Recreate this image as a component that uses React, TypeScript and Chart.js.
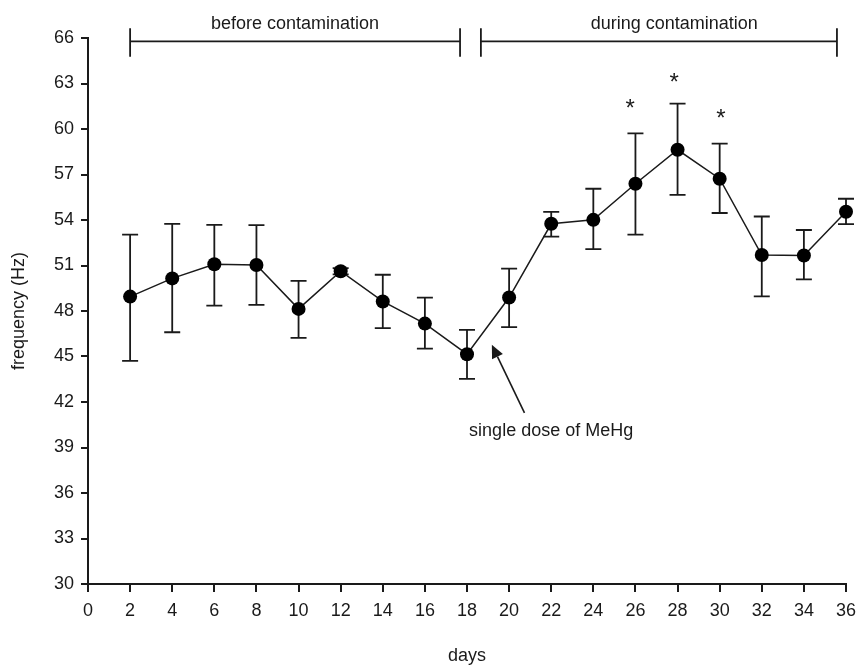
import React, { useEffect, useRef } from "react";
import { Chart, registerables } from "chart.js";

Chart.register(...registerables);

// ---- data ----
const days = [2, 4, 6, 8, 10, 12, 14, 16, 18, 20, 22, 24, 26, 28, 30, 32, 34, 36];
const frequency = [48.95, 50.15, 51.08, 51.03, 48.14, 50.62, 48.63, 47.17, 45.15, 48.89, 53.75, 54.01, 56.39, 58.63, 56.72, 51.69, 51.66, 54.54];
const errorUpper = [53.03, 53.75, 53.68, 53.66, 49.99, 50.83, 50.39, 48.88, 46.76, 50.8, 54.54, 56.06, 59.71, 61.67, 59.03, 54.23, 53.34, 55.4];
const errorLower = [44.71, 46.6, 48.36, 48.4, 46.23, 50.42, 46.87, 45.52, 43.53, 46.94, 52.91, 52.08, 53.03, 55.66, 54.46, 48.96, 50.08, 53.73];

const xTickValues = [0, 2, 4, 6, 8, 10, 12, 14, 16, 18, 20, 22, 24, 26, 28, 30, 32, 34, 36];
const yTickValues = [30, 33, 36, 39, 42, 45, 48, 51, 54, 57, 60, 63, 66];

// significance markers (asterisks) in data coordinates
const asteriskX = [25.75, 27.84, 30.06];
const asteriskY = [61.78, 63.47, 61.12];

// period brackets
const bracketLabels = ["before contamination", "during contamination"];
const bracketStart = [2, 18.66];
const bracketEnd = [17.67, 35.57];
const bracketLabelX = [9.83, 27.84];
const bracketLevel = 65.78;
const bracketLabelLevel = 66.58;

// arrow annotation
const arrowText = "single dose of MeHg";
const arrowTail = [20.73, 41.28];
const arrowTip = [19.18, 45.77];
const arrowTextPos = [18.1, 39.77];

const FONT = '"Liberation Sans", Arial, Helvetica, sans-serif';
const INK = "#1a1a1a";

const annotationPlugin = {
  id: "annotations",
  beforeDatasetsDraw(chart: any) {
    const { ctx, scales } = chart;
    const xs = scales.x;
    const ys = scales.y;
    ctx.save();
    ctx.strokeStyle = INK;
    ctx.lineWidth = 1.8;
    const cap = 8;
    for (let i = 0; i < days.length; i++) {
      const px = xs.getPixelForValue(days[i]);
      const pTop = ys.getPixelForValue(errorUpper[i]);
      const pBot = ys.getPixelForValue(errorLower[i]);
      ctx.beginPath();
      ctx.moveTo(px, pTop);
      ctx.lineTo(px, pBot);
      ctx.moveTo(px - cap, pTop);
      ctx.lineTo(px + cap, pTop);
      ctx.moveTo(px - cap, pBot);
      ctx.lineTo(px + cap, pBot);
      ctx.stroke();
    }
    ctx.restore();
  },
  afterDraw(chart: any) {
    const { ctx, scales } = chart;
    const xs = scales.x;
    const ys = scales.y;
    ctx.save();
    ctx.fillStyle = INK;
    ctx.strokeStyle = INK;

    // asterisks
    ctx.font = `24px ${FONT}`;
    ctx.textAlign = "center";
    ctx.textBaseline = "alphabetic";
    for (let i = 0; i < asteriskX.length; i++) {
      const px = xs.getPixelForValue(asteriskX[i]);
      const py = ys.getPixelForValue(asteriskY[i]);
      ctx.fillText("*", px, py + 14);
    }

    // brackets
    ctx.font = `18px ${FONT}`;
    ctx.lineWidth = 1.8;
    const by = ys.getPixelForValue(bracketLevel);
    for (let i = 0; i < bracketLabels.length; i++) {
      const x1 = xs.getPixelForValue(bracketStart[i]);
      const x2 = xs.getPixelForValue(bracketEnd[i]);
      ctx.beginPath();
      ctx.moveTo(x1, by);
      ctx.lineTo(x2, by);
      ctx.moveTo(x1, by - 13);
      ctx.lineTo(x1, by + 15.5);
      ctx.moveTo(x2, by - 13);
      ctx.lineTo(x2, by + 15.5);
      ctx.stroke();
      ctx.textAlign = "center";
      ctx.fillText(
        bracketLabels[i],
        xs.getPixelForValue(bracketLabelX[i]),
        ys.getPixelForValue(bracketLabelLevel)
      );
    }

    // arrow
    const tx = xs.getPixelForValue(arrowTail[0]);
    const ty = ys.getPixelForValue(arrowTail[1]);
    const hx = xs.getPixelForValue(arrowTip[0]);
    const hy = ys.getPixelForValue(arrowTip[1]);
    const ang = Math.atan2(hy - ty, hx - tx);
    const headLen = 13;
    const headHalf = 6;
    const bx = hx - headLen * Math.cos(ang);
    const byy = hy - headLen * Math.sin(ang);
    ctx.lineWidth = 1.6;
    ctx.beginPath();
    ctx.moveTo(tx, ty);
    ctx.lineTo(bx, byy);
    ctx.stroke();
    ctx.beginPath();
    ctx.moveTo(hx, hy);
    ctx.lineTo(bx + headHalf * Math.sin(ang), byy - headHalf * Math.cos(ang));
    ctx.lineTo(bx - headHalf * Math.sin(ang), byy + headHalf * Math.cos(ang));
    ctx.closePath();
    ctx.fill();

    ctx.textAlign = "left";
    ctx.fillText(
      arrowText,
      xs.getPixelForValue(arrowTextPos[0]),
      ys.getPixelForValue(arrowTextPos[1])
    );
    ctx.restore();
  },
};

export default function App() {
  const canvasRef = useRef<HTMLCanvasElement | null>(null);

  useEffect(() => {
    document.body.style.margin = "0";
    const canvas = canvasRef.current;
    if (!canvas) return;
    Chart.defaults.font.family = FONT;
    Chart.defaults.color = INK;

    const chart = new Chart(canvas, {
      type: "line",
      data: {
        datasets: [
          {
            data: days.map((d, i) => ({ x: d, y: frequency[i] })),
            borderColor: INK,
            borderWidth: 1.5,
            backgroundColor: "#000",
            pointBackgroundColor: "#000",
            pointBorderColor: "#000",
            pointRadius: 7,
            pointBorderWidth: 0,
            tension: 0,
            fill: false,
            clip: false,
          } as any,
        ],
      },
      options: {
        responsive: false,
        animation: false,
        events: [],
        layout: { padding: { top: 38, right: 12, left: 0, bottom: 0 } },
        plugins: {
          legend: { display: false },
          tooltip: { enabled: false },
        },
        scales: {
          x: {
            type: "linear",
            min: 0,
            max: 36,
            afterBuildTicks: (scale: any) => {
              scale.ticks = xTickValues.map((v) => ({ value: v }));
            },
            afterFit: (scale: any) => {
              scale.height = 81;
              scale.paddingLeft = 0;
              scale.paddingRight = 0;
            },
            grid: {
              display: true,
              drawOnChartArea: false,
              drawTicks: true,
              tickLength: 8,
              color: INK,
              lineWidth: 2,
            },
            border: { display: true, color: INK, width: 2 },
            ticks: {
              padding: 8,
              font: { size: 18, family: FONT },
              color: INK,
              maxRotation: 0,
              autoSkip: false,
            },
            title: {
              display: true,
              text: "days",
              font: { size: 18, family: FONT, lineHeight: 1 },
              padding: { top: 0, bottom: 0 },
              color: INK,
            },
          },
          y: {
            type: "linear",
            min: 30,
            max: 66,
            afterBuildTicks: (scale: any) => {
              scale.ticks = yTickValues.map((v) => ({ value: v }));
            },
            afterFit: (scale: any) => {
              scale.width = 88;
              scale.paddingTop = 0;
              scale.paddingBottom = 0;
            },
            grid: {
              display: true,
              drawOnChartArea: false,
              drawTicks: true,
              tickLength: 7,
              color: INK,
              lineWidth: 2,
            },
            border: { display: true, color: INK, width: 2 },
            ticks: {
              padding: 7,
              font: { size: 18, family: FONT },
              color: INK,
              autoSkip: false,
            },
            title: {
              display: true,
              text: "frequency (Hz)",
              font: { size: 18, family: FONT, lineHeight: 1 },
              padding: { top: 10, bottom: 0 },
              color: INK,
            },
          },
        },
      },
      plugins: [annotationPlugin],
    });

    return () => {
      chart.destroy();
    };
  }, []);

  return (
    <div style={{ width: 858, height: 665, background: "#fff" }}>
      <canvas ref={canvasRef} width={858} height={665} style={{ display: "block" }} />
    </div>
  );
}
